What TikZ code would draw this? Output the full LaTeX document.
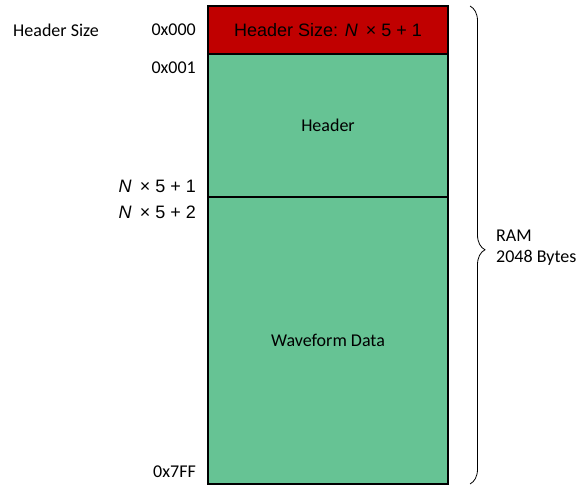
\documentclass[tikz,border=0pt]{standalone}
\usepackage{fontspec}
\setmainfont{Carlito}
\newfontfamily\arialf{Liberation Sans}
\usetikzlibrary{decorations.pathreplacing}
\definecolor{hdrred}{HTML}{C00000}
\definecolor{memgreen}{HTML}{66C394}
\begin{document}
\begin{tikzpicture}[x=1pt,y=-1pt,
  block/.style={draw=black, line width=1.5pt, minimum width=240pt, inner sep=0pt, font=\fontsize{18}{21}\selectfont},
  lbl/.style={inner sep=0pt, font=\fontsize{18}{21}\selectfont},
  albl/.style={inner sep=0pt, font=\arialf\fontsize{18}{21}\selectfont}]
\useasboundingbox (0,0) rectangle (578,489);
\node[block, fill=memgreen, minimum height=287pt] (wave) at (328,340.5) {Waveform Data};
\node[block, fill=memgreen, minimum height=143pt] (hdr) at (328,125.5) {Header};
\node[block, fill=hdrred, minimum height=48pt, font=\arialf\fontsize{18}{21}\selectfont] (hsize) at (328,30) {Header Size: \textit{N}\, × 5 + 1};
\node[lbl, anchor=west] (hsl) at (13,30) {Header Size};
\node[lbl, anchor=east] (a0) at (196,30) {0x000};
\node[lbl, anchor=east] (a1) at (196,68) {0x001};
\node[albl, anchor=east] (n1) at (196,186) {\textit{N}\, × 5 + 1};
\node[albl, anchor=east] (n2) at (196,212) {\textit{N}\, × 5 + 2};
\node[lbl, anchor=east] (a7) at (196,472) {0x7FF};
\node[lbl, anchor=west, align=left] (ram) at (496,247.5) {RAM\\2048 Bytes};
\coordinate (bt) at (470,6);
\coordinate (bb) at (470,484);
\draw[line width=0.8pt, decorate, decoration={brace, amplitude=15pt, aspect=0.51}] (bt) -- (bb);
\end{tikzpicture}
\end{document}
